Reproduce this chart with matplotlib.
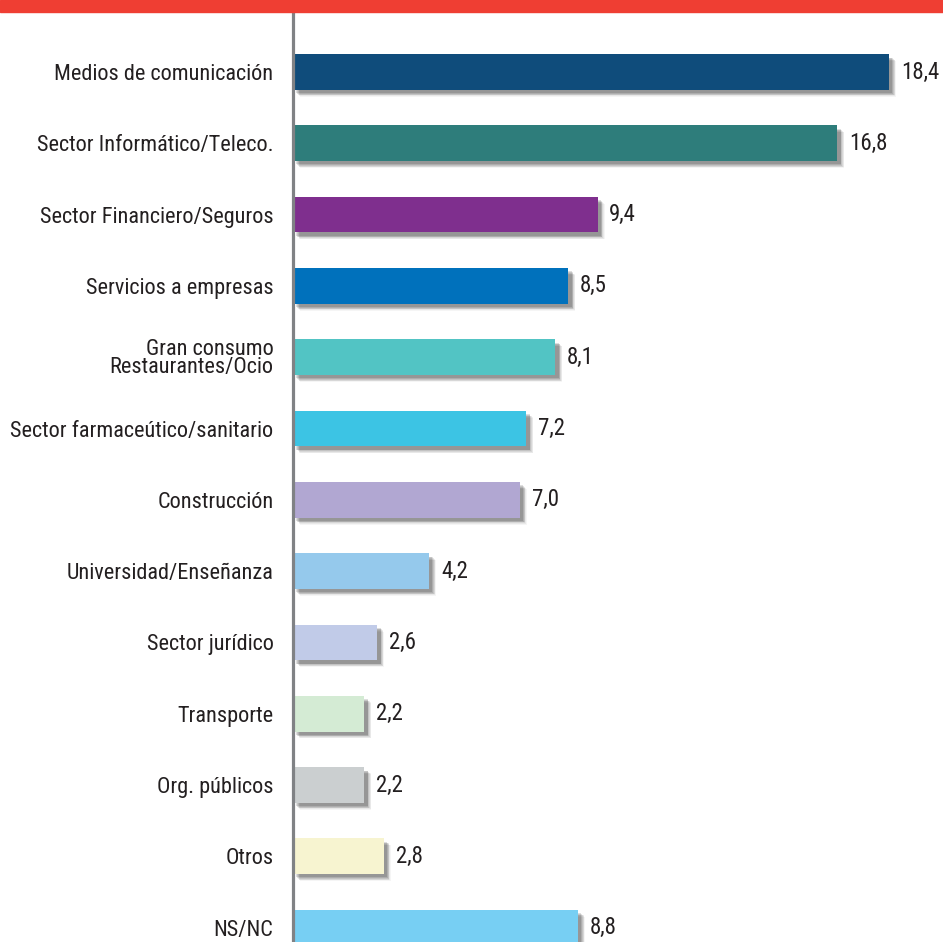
import matplotlib
matplotlib.use("Agg")
import matplotlib.pyplot as plt
import matplotlib.patheffects as pe
from matplotlib.patches import Rectangle
from matplotlib import font_manager

categories = [
    "Medios de comunicación",
    "Sector Informático/Teleco.",
    "Sector Financiero/Seguros",
    "Servicios a empresas",
    "Gran consumo\nRestaurantes/Ocio",
    "Sector farmaceútico/sanitario",
    "Construcción",
    "Universidad/Enseñanza",
    "Sector jurídico",
    "Transporte",
    "Org. públicos",
    "Otros",
    "NS/NC",
]
values = [18.4, 16.8, 9.4, 8.5, 8.1, 7.2, 7.0, 4.2, 2.6, 2.2, 2.2, 2.8, 8.8]
value_labels = ["18,4", "16,8", "9,4", "8,5", "8,1", "7,2", "7,0", "4,2", "2,6", "2,2", "2,2", "2,8", "8,8"]
colors = ["#0F4C7B", "#2E7D7B", "#7F2F8E", "#0071BC", "#52C4C4", "#3CC4E4",
          "#B1A7D2", "#95C9EC", "#C1CBE8", "#D4EBD4", "#CBCFD0", "#F7F4D0", "#77CFF3"]

avail = {f.name for f in font_manager.fontManager.ttflist}
fam = [f for f in ["Liberation Sans Narrow", "Roboto Condensed", "Liberation Sans"] if f in avail] + ["DejaVu Sans"]
plt.rcParams['font.family'] = fam

W, H = 943, 942
fig = plt.figure(figsize=(W / 100, H / 100), dpi=100)
x0 = 293
ax = fig.add_axes([x0 / W, 0, 1 - x0 / W, 1])
px_per_unit = 32.4
ax.set_xlim(0, (W - x0) / px_per_unit)
top_c, step = 72, 71.3
ax.set_ylim((H - top_c) / step, -top_c / step)

shadow = [pe.SimplePatchShadow(offset=(3.0 + d, -3.0 - d), shadow_rgbFace="#000000", alpha=a)
          for d, a in [(2.0, 0.04), (1.5, 0.05), (1.0, 0.07), (0.5, 0.09), (0.0, 0.11), (-0.6, 0.13)]] + [pe.Normal()]

ypos = list(range(len(categories)))
bars = ax.barh(ypos, values, height=0.5, color=colors, zorder=3)
for b in bars:
    b.set_path_effects(shadow)

for y, v, lab in zip(ypos, values, value_labels):
    ax.annotate(lab, (v, y), xytext=(8.5, 0), textcoords="offset points",
                ha="left", va="center", fontsize=16.5, color="#231F20")

ax.set_yticks(ypos)
ax.set_yticklabels(categories, fontsize=16, color="#231F20", linespacing=0.82)
ax.tick_params(axis="y", length=0, pad=14)
ax.set_xticks([])
for s in ax.spines.values():
    s.set_visible(False)

# vertical axis line
ax.plot([0, 0], [ax.get_ylim()[0], -top_c / step + 12 / step], color="#808285",
        lw=2.3, zorder=4, clip_on=False, solid_capstyle="butt")

# red banner on top
fig.patches.append(Rectangle((0, 1 - 12 / H), 1, 12 / H, transform=fig.transFigure,
                             color="#EF3E33", zorder=10))

fig.savefig("out.png", dpi=100)
